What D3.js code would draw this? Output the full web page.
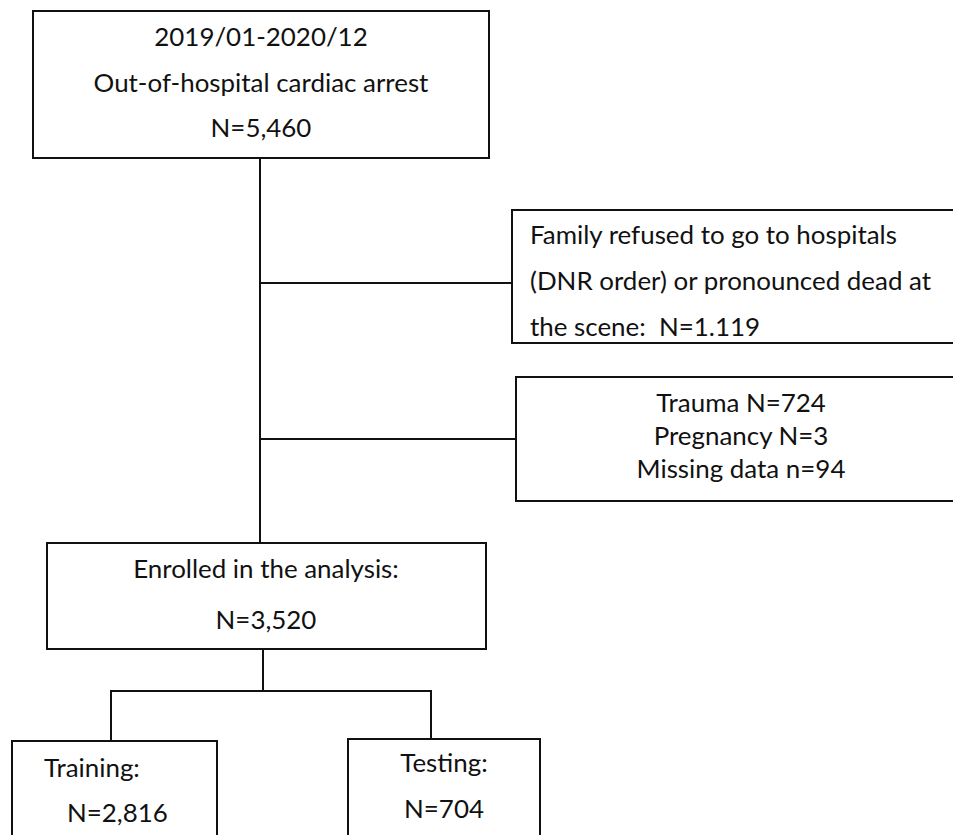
<!DOCTYPE html>
<html><head><meta charset="utf-8">
<script src="https://cdn.jsdelivr.net/npm/d3@7"></script>
<style>html,body{margin:0;padding:0;background:#fff;}svg{display:block;}text{white-space:pre;}</style>
</head><body>
<script>
// ---- content (data) ----
const topLines = ["2019/01-2020/12", "Out-of-hospital cardiac arrest", "N=5,460"];
const exclusion1Lines = ["Family refused to go to hospitals", "(DNR order) or pronounced dead at", "the scene:  N=1.119"];
const exclusion2Lines = ["Trauma N=724", "Pregnancy N=3", "Missing data n=94"];
const enrolledLines = ["Enrolled in the analysis:", "N=3,520"];
const trainingLines = ["Training:", "N=2,816"];
const testingLines = ["Testing:", "N=704"];

const W = 953, H = 835;
const svg = d3.select("body").append("svg").attr("width", W).attr("height", H);
const FONT = "Lato, 'Open Sans', sans-serif";

// calibrate font size so the reference line width matches
const probe = svg.append("text").attr("font-family", FONT).attr("font-size", 20).text(topLines[1]);
const pw = probe.node().getComputedTextLength();
probe.remove();
const FS = 20 * 335 / pw;

const g = svg.append("g").attr("fill", "none").attr("stroke", "#111").attr("stroke-width", 2);

function box(x0, y0, x1, y1) {
  g.append("rect").attr("x", x0).attr("y", y0).attr("width", x1 - x0).attr("height", y1 - y0);
}
function line(pts) {
  g.append("path").attr("d", d3.line()(pts));
}
function texts(lines, x, baselines, anchor, xs) {
  lines.forEach((t, i) => {
    svg.append("text")
      .attr("x", xs ? xs[i] : x)
      .attr("y", baselines[i])
      .attr("text-anchor", anchor)
      .attr("font-family", FONT)
      .attr("font-size", FS)
      .attr("fill", "#111")
      .attr("xml:space", "preserve")
      .text(t);
  });
}

// boxes
box(33, 11, 489, 158);
box(512, 210, 962, 343);
box(516, 377, 962, 501);
box(47, 543, 486, 649);
box(12, 741, 217, 850);
box(348, 739, 540, 850);

// connectors
line([[260, 158], [260, 543]]);
line([[260, 283], [512, 283]]);
line([[260, 439], [516, 439]]);
line([[263, 649], [263, 691]]);
line([[111, 741], [111, 691], [431, 691], [431, 739]]);

// texts
texts(topLines, 261, [46, 92, 137], "middle");
texts(exclusion1Lines, 530, [244, 290, 336], "start");
texts(exclusion2Lines, 741, [412, 445, 478], "middle");
texts(enrolledLines, 266, [578, 629], "middle");
texts(trainingLines, 0, [777, 822], "start", [44, 67]);
texts(testingLines, 444, [772, 818], "middle");
</script>
</body></html>
